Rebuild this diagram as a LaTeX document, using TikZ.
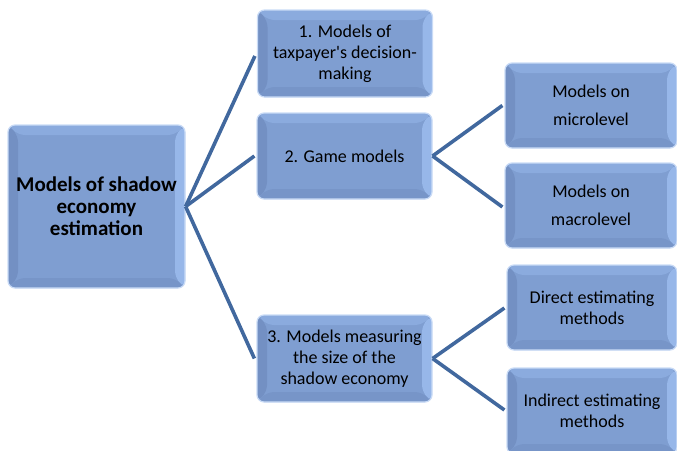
\documentclass[tikz,border=0pt]{standalone}
\usepackage{fontspec}
\setmainfont{Carlito}[Ligatures=TeXOff]
\begin{document}
\definecolor{face}{HTML}{7F9ED1}
\definecolor{bevtop}{HTML}{8BABDE}
\definecolor{bevleft}{HTML}{7390C3}
\definecolor{bevright}{HTML}{97B7E9}
\definecolor{bevbottom}{HTML}{7795C8}
\definecolor{halo}{HTML}{C9DBF6}
\definecolor{link}{HTML}{41689E}
\tikzset{
  bevbox/.style={
    rectangle, rounded corners=7pt, fill=face, draw=halo, line width=1.2pt,
    inner sep=2pt, align=center, font=\fontsize{18}{21}\selectfont,
    path picture={
      \fill[bevtop] (path picture bounding box.north west) -- (path picture bounding box.north east)
        -- ([shift={(-10pt,-10pt)}]path picture bounding box.north east)
        -- ([shift={(10pt,-10pt)}]path picture bounding box.north west) -- cycle;
      \fill[bevleft] (path picture bounding box.north west) -- (path picture bounding box.south west)
        -- ([shift={(10pt,10pt)}]path picture bounding box.south west)
        -- ([shift={(10pt,-10pt)}]path picture bounding box.north west) -- cycle;
      \fill[bevright] (path picture bounding box.north east) -- (path picture bounding box.south east)
        -- ([shift={(-10pt,10pt)}]path picture bounding box.south east)
        -- ([shift={(-10pt,-10pt)}]path picture bounding box.north east) -- cycle;
      \fill[bevbottom] (path picture bounding box.south west) -- (path picture bounding box.south east)
        -- ([shift={(-10pt,10pt)}]path picture bounding box.south east)
        -- ([shift={(10pt,10pt)}]path picture bounding box.south west) -- cycle;
    }},
  connector/.style={draw=link, line width=3.6pt}
}
\begin{tikzpicture}[x=1pt,y=-1pt]
\useasboundingbox (0,0) rectangle (677,450);
% root of the tree
\node[bevbox, minimum width=177pt, minimum height=163pt, font=\bfseries\fontsize{21}{22}\selectfont]
  (root) at (96.5,206.5) {Models of shadow\\economy\\estimation};
% first level
\node[bevbox, minimum width=175pt, minimum height=87pt] (m1) at (345,53.5)
  {1. Models of\\taxpayer's decision-\\making};
\node[bevbox, minimum width=175pt, minimum height=86pt] (m2) at (344.5,156)
  {2. Game models};
\node[bevbox, minimum width=175pt, minimum height=87pt] (m3) at (344.5,358.5)
  {3. Models measuring\\the size of the\\shadow economy};
% second level
\node[bevbox, minimum width=172pt, minimum height=85pt, font=\fontsize{18}{28}\selectfont]
  (micro) at (591,105.5) {Models on\\microlevel};
\node[bevbox, minimum width=172pt, minimum height=85pt, font=\fontsize{18}{28}\selectfont]
  (macro) at (591,205.5) {Models on\\macrolevel};
\node[bevbox, minimum width=170pt, minimum height=85pt] (direct) at (592,307.5)
  {Direct estimating\\methods};
\node[bevbox, minimum width=170pt, minimum height=86pt] (indirect) at (592,411)
  {Indirect estimating\\methods};
% connectors
\coordinate (r) at (root.east);
\draw[connector] (r) -- ([shift={(-2pt,0pt)}]m1.west |- 0,56);
\draw[connector] (r) -- ([shift={(-2pt,0pt)}]m2.west);
\draw[connector] (r) -- ([shift={(-2pt,0pt)}]m3.west);
\draw[connector] (m2.east) -- ([shift={(-2pt,0pt)}]micro.west);
\draw[connector] (m2.east) -- ([shift={(-2pt,0pt)}]macro.west |- 0,207);
\draw[connector] (m3.east) -- ([shift={(-2pt,0pt)}]direct.west |- 0,308);
\draw[connector] (m3.east) -- ([shift={(-2pt,0pt)}]indirect.west |- 0,410);
\end{tikzpicture}
\end{document}
